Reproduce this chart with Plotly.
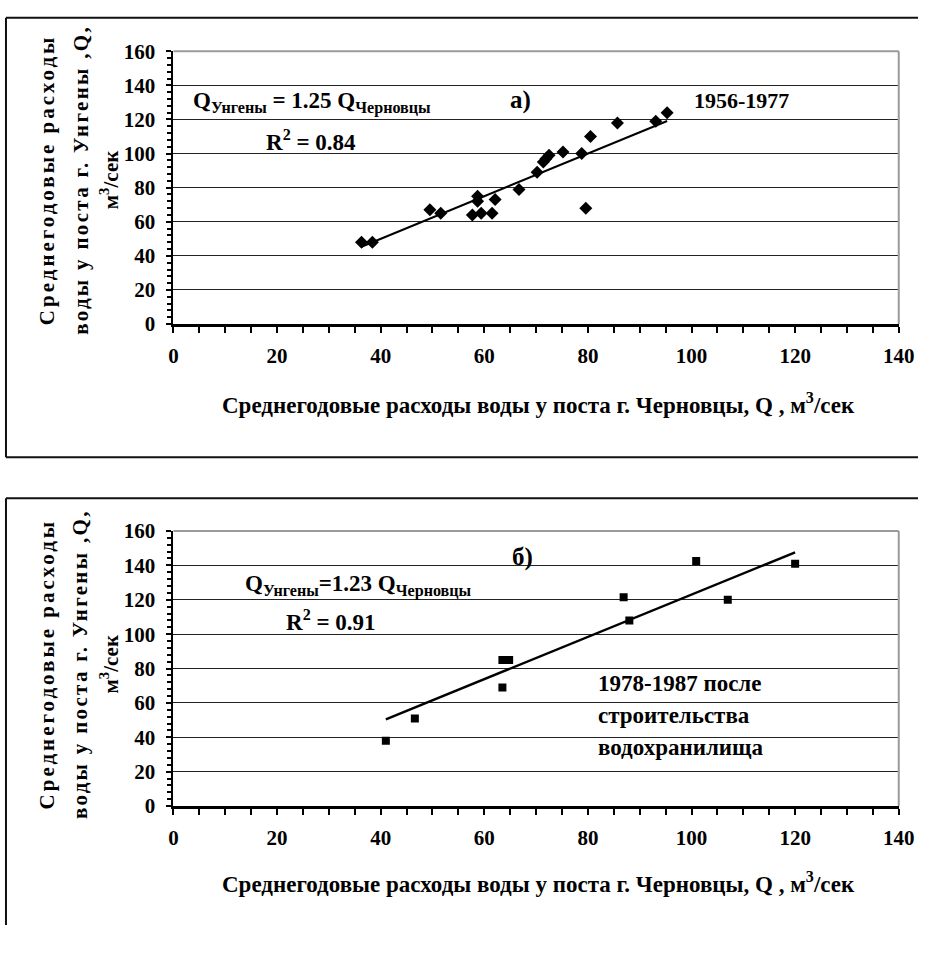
import plotly.graph_objects as go

# ---------------- data ----------------
top_x = [36.3, 38.4, 49.5, 51.6, 57.7, 59.4, 61.5, 58.7, 58.7, 62.1, 66.7,
         70.2, 71.4, 71.9, 72.5, 75.2, 78.8, 80.5, 79.6, 85.7, 93.1, 95.3]
top_y = [48, 48, 67, 65, 64, 65, 65, 75, 72, 73, 79,
         89, 95, 97, 99, 101, 100, 110, 68, 118, 119, 124]
top_slope = 1.25

bot_x = [41.0, 46.6, 63.5, 64.8, 63.5, 86.9, 88.0, 100.9, 107.0, 120.0]
bot_y = [38, 51, 85, 85, 69, 121.5, 108, 142.5, 120, 141]
bot_slope = 1.23

x_ticks = [0, 20, 40, 60, 80, 100, 120, 140]
y_ticks = [0, 20, 40, 60, 80, 100, 120, 140, 160]

x_title = "Среднегодовые расходы воды у поста г. Черновцы, Q , м<sup>3</sup>/сек"
y_title_lines = ["Среднегодовые расходы", "воды у поста г. Унгены ,Q,", "м<sup>3</sup>/сек"]
top_eq = "Q<sub>Унгены</sub> = 1.25 Q<sub>Черновцы</sub>"
top_r2 = "R<sup>2</sup> = 0.84"
top_label = "а)"
top_period = "1956-1977"
bot_eq = "Q<sub>Унгены</sub>=1.23 Q<sub>Черновцы</sub>"
bot_r2 = "R<sup>2</sup> = 0.91"
bot_label = "б)"
bot_period = ["1978-1987 после", "строительства", "водохранилища"]

# ---------------- layout helpers ----------------
# the page body keeps its default 8px margin: the figure starts at (8, 8) and is sized
# so that the page does not overflow the 942x953 window
OFF = 8
W, H = 942 - OFF, 953 - 2 * OFF
FONT = "'Liberation Serif', 'Times New Roman', serif"


def px(x):
    return (x - OFF) / W


def py(y):
    return 1 - (y - OFF) / H


fig = go.Figure()

fig.add_trace(go.Scatter(x=top_x, y=top_y, mode="markers", xaxis="x", yaxis="y",
                         marker=dict(symbol="diamond", size=10, color="black"),
                         showlegend=False))
tx = [min(top_x), max(top_x)]
fig.add_trace(go.Scatter(x=tx, y=[top_slope * v for v in tx], mode="lines", xaxis="x", yaxis="y",
                         line=dict(color="black", width=2), showlegend=False))

fig.add_trace(go.Scatter(x=bot_x, y=bot_y, mode="markers", xaxis="x2", yaxis="y2",
                         marker=dict(symbol="square", size=8, color="black"),
                         showlegend=False))
bx = [min(bot_x), max(bot_x)]
fig.add_trace(go.Scatter(x=bx, y=[bot_slope * v for v in bx], mode="lines", xaxis="x2", yaxis="y2",
                         line=dict(color="black", width=2.5), showlegend=False))

tickfont = dict(family=FONT, size=21, color="black", weight="bold")

xaxis_common = dict(range=[0, 140], tickvals=x_ticks, showgrid=False, zeroline=False,
                    showline=True, linecolor="black", linewidth=3,
                    ticks="outside", ticklen=6, tickwidth=2, tickcolor="black",
                    minor=dict(dtick=5, ticks="outside", ticklen=6, tickwidth=2, tickcolor="black"),
                    tickfont=tickfont, ticklabelstandoff=5, ticklabeloverflow="allow",
                    fixedrange=True)
yaxis_common = dict(range=[0, 160], tickvals=y_ticks, showgrid=True, gridcolor="#222222",
                    gridwidth=1, zeroline=False,
                    showline=True, linecolor="black", linewidth=2,
                    ticks="outside", ticklen=5, tickwidth=2, tickcolor="black",
                    minor=dict(dtick=4, ticks="outside", ticklen=4, tickwidth=1.5, tickcolor="black",
                               showgrid=False),
                    tickfont=tickfont, ticklabelstandoff=7, ticklabeloverflow="allow",
                    fixedrange=True)

xdom = [px(180.3), px(922.3)]
fig.update_layout(
    width=W, height=H,
    margin=dict(l=0, r=0, t=0, b=0, pad=0),
    font=dict(family=FONT, size=19, color="black"),
    paper_bgcolor="white", plot_bgcolor="white",
    xaxis=dict(domain=xdom, anchor="y", **xaxis_common),
    yaxis=dict(domain=[py(328.3), py(48.3)], anchor="x", **yaxis_common),
    xaxis2=dict(domain=xdom, anchor="y2", **xaxis_common),
    yaxis2=dict(domain=[py(823), py(540.6)], anchor="x2", **yaxis_common),
)

frame = dict(color="#111111", width=2)
shapes = []


def seg(x0, y0, x1, y1, line):
    shapes.append(dict(type="line", xref="paper", yref="paper",
                       x0=px(x0), y0=py(y0), x1=px(x1), y1=py(y1), line=line))


seg(9, 14, 942, 14, frame)
seg(9, 14, 9, 465, frame)
seg(9, 465, 942, 465, frame)
seg(9, 507, 942, 507, frame)
seg(9, 507, 9, 945, frame)
for xa, ya in (("x", "y"), ("x2", "y2")):
    shapes.append(dict(type="line", xref=f"{xa} domain", yref=f"{ya} domain",
                       x0=0, x1=1, y0=1, y1=1, line=dict(color="#9a9a9a", width=2)))
    shapes.append(dict(type="line", xref=f"{xa} domain", yref=f"{ya} domain",
                       x0=1, x1=1, y0=0, y1=1, line=dict(color="#9a9a9a", width=2)))
fig.update_layout(shapes=shapes)

ann = []


def add_text(text, x, y, size=20, xanchor="left", yanchor="middle", angle=0):
    ann.append(dict(text=text, x=px(x), y=py(y), xref="paper", yref="paper",
                    xanchor=xanchor, yanchor=yanchor, showarrow=False, textangle=angle,
                    font=dict(family=FONT, size=size, color="black", weight="bold")))


for y0 in (410, 901):
    add_text(x_title, 554, y0, size=23, xanchor="center")
for yc in (180, 677):
    for text, xc in zip(y_title_lines, (51, 85, 115)):
        add_text(text, xc, yc, size=21, xanchor="center", angle=-90)

add_text(top_eq, 198, 101, size=23)
add_text(top_label, 535, 98, size=25, xanchor="center")
add_text(top_r2, 273, 140, size=23)
add_text(top_period, 711, 99, size=22)

add_text(bot_eq, 251, 597, size=23)
add_text(bot_label, 537, 567, size=25, xanchor="center")
add_text(bot_r2, 293, 632, size=23)
for text, yy in zip(bot_period, (697, 730, 763)):
    add_text(text, 613, yy, size=23)

fig.update_layout(annotations=ann)

# wider letter spacing of the rotated y-axis titles, as in the original picture
post = """
var sp = {'Среднегодовые расходы': '3px', 'воды у поста г. Унгены ,Q,': '2.3px'};
document.querySelectorAll('text.annotation-text').forEach(function (t) {
  var u = t.getAttribute('data-unformatted');
  if (u && sp[u]) { t.style.letterSpacing = sp[u]; }
});
"""
fig.write_html("out.html", post_script=post)
